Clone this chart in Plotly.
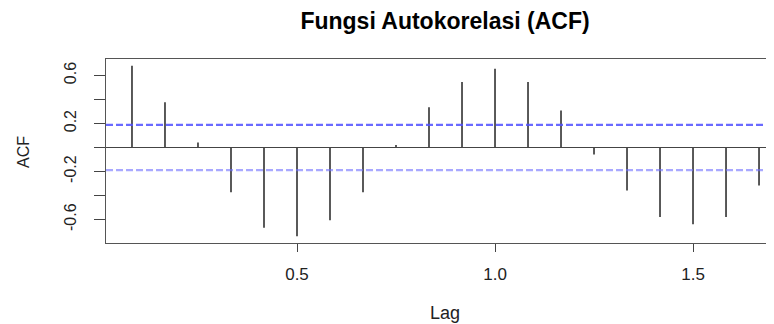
import plotly.graph_objects as go

# Data (monthly series, lags in years)
lag_index = [1, 2, 3, 4, 5, 6, 7, 8, 9, 10, 11, 12, 13, 14, 15, 16, 17, 18, 19, 20]
acf_values = [0.680, 0.377, 0.041, -0.372, -0.669, -0.738, -0.606, -0.372, 0.020,
              0.335, 0.545, 0.655, 0.545, 0.308, -0.058, -0.358, -0.578, -0.639,
              -0.578, -0.317]
frequency = 12
conf_bound = 0.189
y_tick_labels = [-0.6, -0.2, 0.2, 0.6]
y_minor_ticks = [-0.4, 0.0, 0.4]
x_tick_labels = [0.5, 1.0, 1.5]

lags = [k / frequency for k in lag_index]

xs, ys = [], []
for lg, v in zip(lags, acf_values):
    xs += [lg, lg, None]
    ys += [0, v, None]

fig = go.Figure()
fig.add_trace(go.Scatter(x=xs, y=ys, mode="lines",
                         line=dict(color="black", width=1.3),
                         hoverinfo="skip", showlegend=False))

x0, x1 = 0.0177, 1.7045
# zero line
fig.add_trace(go.Scatter(x=[x0, x1], y=[0, 0], mode="lines",
                         line=dict(color="#444444", width=1.2),
                         hoverinfo="skip", showlegend=False))
# confidence bounds
for b, col in [(conf_bound, "rgba(80,80,255,0.85)"), (-conf_bound, "rgba(110,110,255,0.6)")]:
    fig.add_trace(go.Scatter(x=[x0, x1], y=[b, b], mode="lines",
                             line=dict(color=col, width=2.2, dash="7px,3px"),
                             hoverinfo="skip", showlegend=False))

font_fam = "Liberation Sans, Arial, sans-serif"
# The page body has an 8px margin, so the figure is 8px smaller and offset.
W, H = 766, 316
PW, PH = 668, 184  # plot area size in px
fig.update_layout(
    width=W, height=H,
    margin=dict(l=98, r=0, t=51, b=81),
    paper_bgcolor="white", plot_bgcolor="white",
    font=dict(family=font_fam, size=16, color="#222222"),
    title=dict(text="<b>Fungsi Autokorelasi (ACF)</b>", x=437 / W, xanchor="center",
               y=1 - 13 / H, yanchor="middle", xref="container", yref="container",
               font=dict(family=font_fam, size=23, color="black")),
    xaxis=dict(range=[x0, x1], tickvals=x_tick_labels, ticktext=["0.5", "1.0", "1.5"],
               ticks="outside", ticklen=8, tickcolor="#444444", tickwidth=1,
               tickfont=dict(size=17),
               showline=True, linecolor="#555555", linewidth=1.2, mirror=True,
               showgrid=False, zeroline=False, ticklabelstandoff=7),
    yaxis=dict(range=[-0.795, 0.737], tickvals=y_tick_labels,
               ticktext=["-0.6", "-0.2", "0.2", "0.6"], tickangle=-90,
               ticks="outside", ticklen=11, tickcolor="#444444", tickwidth=1,
               tickfont=dict(size=16),
               minor=dict(tickvals=y_minor_ticks, ticks="outside", ticklen=11,
                          tickcolor="#444444", tickwidth=1, showgrid=False),
               showline=True, linecolor="#555555", linewidth=1.2, mirror=False,
               showgrid=False, zeroline=False, ticklabelstandoff=12),
    annotations=[
        dict(text="Lag", x=(445 - 106) / PW, y=-70 / PH, xref="paper", yref="paper",
             xanchor="center", yanchor="middle", showarrow=False,
             font=dict(family=font_fam, size=18, color="#222222")),
        dict(text="ACF", x=-83 / PW, y=91 / PH, xref="paper", yref="paper",
             xanchor="center", yanchor="middle", showarrow=False, textangle=-90,
             font=dict(family=font_fam, size=16, color="#222222")),
    ],
)

fig.write_html("out.html")
